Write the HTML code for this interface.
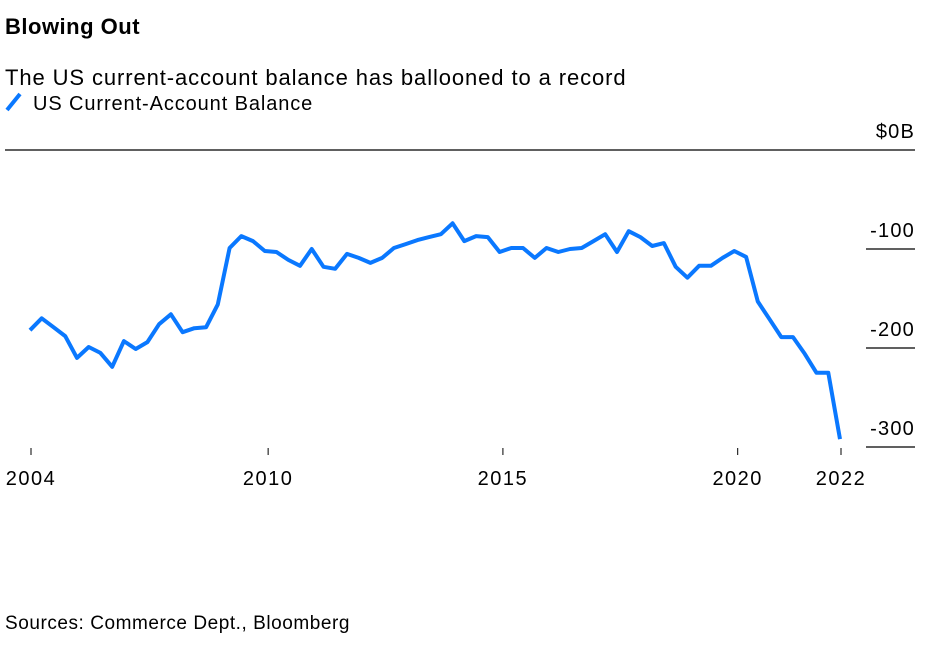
<!DOCTYPE html>
<html><head><meta charset="utf-8"><style>
body{margin:0;background:#fff;font-family:"Liberation Sans",sans-serif;color:#000}
svg{display:block}
</style></head><body>
<svg width="939" height="651" viewBox="0 0 939 651">
<text x="5" y="34" font-size="22" font-weight="bold" letter-spacing="0.5">Blowing Out</text>
<text x="5" y="85" font-size="22" letter-spacing="0.9">The US current-account balance has ballooned to a record</text>
<g>
<line x1="7" y1="110" x2="20" y2="94" stroke="#0a78ff" stroke-width="4"/>
<text x="33" y="110" font-size="20" letter-spacing="0.9">US Current-Account Balance</text>
</g>
<g id="grid"></g>
<g id="xaxis"></g>
<path id="line" fill="none" stroke="#0a78ff" stroke-width="4" stroke-linejoin="round"/>
<text x="5" y="629" font-size="19" letter-spacing="0.55">Sources: Commerce Dept., Bloomberg</text>
</svg>
<script>
const values=[-182,-170,-179,-188,-210,-199,-205,-219,-193,-201,-194,-176,-166,-184,-180,-179,-156,-99,-87,-92,-102,-103,-111,-117,-100,-118,-120,-105,-109,-114,-109,-99,-95,-91,-88,
-85,-74,-92,-87,-88,-103,-99,-99,-109,-99,-103,-100,-99,-92,-85,-103,-82,-88,-97,-94,-118,-129,-117,-117,-109,-102,-108,-153,-171,-189,-189,-206,-225,-225,-292];
const yTicks=[0,-100,-200,-300];
const yTickLabels=["$0B","-100","-200","-300"];
const xTickIdx=[0,20.2,40.2,60.2,69];
const xTickLabels=["2004","2010","2015","2020","2022"];
const NS="http://www.w3.org/2000/svg";
const xs=i=>30+i*(810/69);
function Y(v){return 150-v*0.99;}
const grid=document.getElementById('grid');
yTicks.forEach((t,k)=>{
  const l=document.createElementNS(NS,'line');
  const y=Y(t);
  l.setAttribute('x1',k==0?5:866);l.setAttribute('x2',915);
  l.setAttribute('y1',y);l.setAttribute('y2',y);
  l.setAttribute('stroke','#000');l.setAttribute('stroke-width','1.2');
  
  
  grid.appendChild(l);
  const tx=document.createElementNS(NS,'text');
  tx.setAttribute('x',915);tx.setAttribute('y',y-12);
  tx.setAttribute('text-anchor','end');tx.setAttribute('font-size','20');
  tx.setAttribute('letter-spacing','1.2');
  tx.textContent=yTickLabels[k];
  
  
  grid.appendChild(tx);
});
const xa=document.getElementById('xaxis');
xTickIdx.forEach((t,k)=>{
  const x=xs(t)+1;
  const l=document.createElementNS(NS,'line');
  l.setAttribute('x1',x);l.setAttribute('x2',x);l.setAttribute('y1',448);l.setAttribute('y2',455);
  l.setAttribute('stroke','#000');l.setAttribute('stroke-width','1');
  
  
  xa.appendChild(l);
  const tx=document.createElementNS(NS,'text');
  tx.setAttribute('x',x);tx.setAttribute('y',485);
  tx.setAttribute('text-anchor','middle');tx.setAttribute('font-size','20');
  tx.setAttribute('letter-spacing','1.5');
  tx.textContent=xTickLabels[k];
  
  
  xa.appendChild(tx);
});
document.getElementById('line').setAttribute('d',values.map((v,i)=>(i?'L':'M')+xs(i).toFixed(1)+' '+Y(v).toFixed(1)).join(' '));
</script>
</body></html>
